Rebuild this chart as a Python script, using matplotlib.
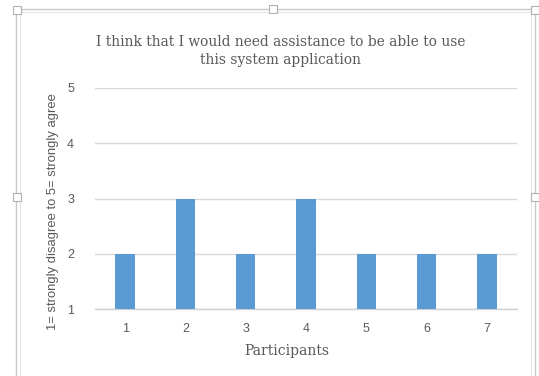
import matplotlib
matplotlib.use("Agg")
import matplotlib.pyplot as plt
from matplotlib.patches import Rectangle

participants = [1, 2, 3, 4, 5, 6, 7]
scores = [2, 3, 2, 3, 2, 2, 2]
y_ticks = [1, 2, 3, 4, 5]

title_text = "I think that I would need assistance to be able to use\nthis system application"
x_label = "Participants"
y_label = "1= strongly disagree to 5= strongly agree"

bar_color = "#5b9bd5"
grid_color = "#d9d9d9"
text_gray = "#595959"

fig = plt.figure(figsize=(5.39, 3.76), dpi=100)
fig.patch.set_facecolor("white")

# chart frame with selection handles
frame_col = "#c8c8c8"
fig.patches.append(Rectangle((16 / 539, -0.05), (535 - 16) / 539, (376 - 9) / 376 + 0.05,
                             transform=fig.transFigure, fill=False, edgecolor=frame_col, lw=1.0))
fig.patches.append(Rectangle((20 / 539, -0.05), (531 - 20) / 539, (376 - 12) / 376 + 0.05,
                             transform=fig.transFigure, fill=False, edgecolor="#e4e4e4", lw=0.8))
for hx, hy in [(17, 10), (273, 9), (535, 10), (17, 197), (535, 197)]:
    fig.patches.append(Rectangle(((hx - 4) / 539, 1 - (hy + 4) / 376), 8 / 539, 8 / 376,
                                 transform=fig.transFigure, facecolor="white",
                                 edgecolor="#b0b0b0", lw=0.8, zorder=5))

ax = fig.add_axes([95 / 539, 1 - 309 / 376, 422 / 539, (309 - 88) / 376])
ax.bar(participants, scores, width=0.32, color=bar_color, zorder=3)

ax.set_xlim(0.5, 7.5)
ax.set_ylim(1, 5)
ax.set_yticks(y_ticks)
ax.set_xticks(participants)
ax.yaxis.grid(True, color=grid_color, lw=1.0, zorder=0)
ax.set_axisbelow(True)
for side in ["top", "right", "left"]:
    ax.spines[side].set_visible(False)
ax.spines["bottom"].set_color("#d0d0d0")
ax.spines["bottom"].set_linewidth(1.0)
ax.tick_params(length=0, labelsize=9, labelcolor=text_gray, pad=10)
ax.tick_params(axis="y", pad=15)
for lbl in ax.get_xticklabels() + ax.get_yticklabels():
    lbl.set_family("Liberation Sans")

fig.text(281 / 539, 1 - 51 / 376, title_text, ha="center", va="center",
         family="DejaVu Serif", fontsize=9.9, color=text_gray, linespacing=1.3)
fig.text(287 / 539, 1 - 351 / 376, x_label, ha="center", va="center",
         family="DejaVu Serif", fontsize=10.0, color=text_gray)
fig.text(53 / 539, 1 - 212 / 376, y_label, ha="center", va="center", rotation=90,
         family="Liberation Sans", fontsize=9.4, color=text_gray)

fig.savefig("out.png", dpi=100)
